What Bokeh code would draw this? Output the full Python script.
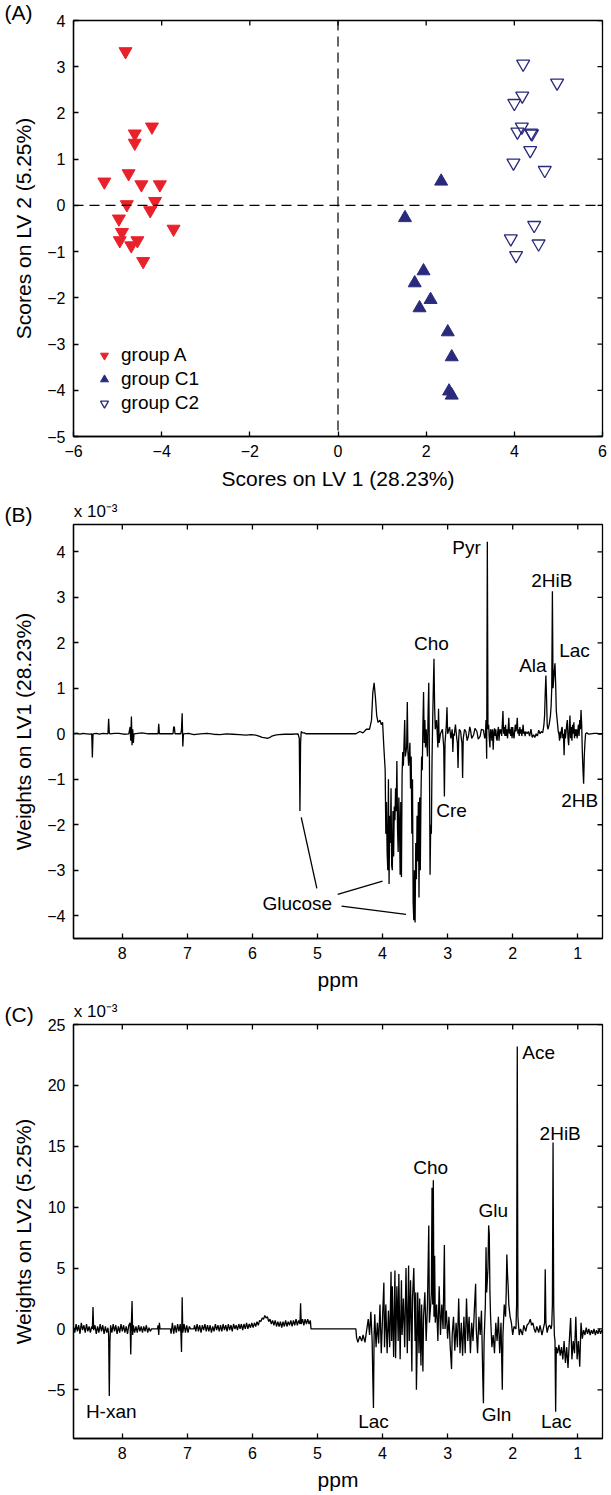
import math
from bokeh.plotting import figure
from bokeh.layouts import column
from bokeh.models import (Range1d, FixedTicker, LinearAxis, Span, LabelSet, Title,
                          CustomJSTickFormatter, ColumnDataSource)
from bokeh.core.properties import value
from bokeh.embed import file_html
from bokeh.resources import INLINE

FONT = "Liberation Sans"

# ---------------- Panel A data (scores) ----------------
groupA_x = [-4.82, -4.22, -4.61, -4.61, -5.30, -4.75, -4.46, -4.04, -4.79, -4.15,
            -4.26, -4.97, -3.73, -4.90, -4.95, -4.69, -4.55, -4.42]
groupA_y = [3.33, 1.70, 1.55, 1.35, 0.51, 0.69, 0.45, 0.45, 0.02, 0.09,
            -0.11, -0.29, -0.51, -0.58, -0.76, -0.87, -0.76, -1.21]
groupC1_x = [2.34, 1.52, 1.94, 1.74, 2.10, 1.85, 2.49, 2.58, 2.52, 2.58]
groupC1_y = [0.52, -0.27, -1.42, -1.68, -2.04, -2.22, -2.74, -3.28, -4.02, -4.11]
groupC2_x = [4.20, 4.97, 4.18, 4.00, 4.17, 4.07, 4.38, 4.40, 4.36, 3.98,
             4.69, 4.45, 3.92, 4.55, 4.04]
groupC2_y = [3.06, 2.65, 2.37, 2.21, 1.70, 1.59, 1.57, 1.55, 1.19, 0.92,
             0.76, -0.43, -0.72, -0.83, -1.08]
legend_labels = ["group A", "group C1", "group C2"]
A_xlim = (-6, 6)
A_ylim = (-5, 4)
A_xticks = [-6, -4, -2, 0, 2, 4, 6]
A_yticks = [-5, -4, -3, -2, -1, 0, 1, 2, 3, 4]

# ---------------- Panel B data: (ppm, LV1 weight x 1e-3) ----------------
B_points = [
    (8.75, 0.0), (8.70, 0.01), (8.65, -0.01), (8.60, 0.01), (8.55, 0.0), (8.50, -0.01),
    (8.47, 0.0), (8.46, -0.52), (8.45, 0.0), (8.40, 0.01), (8.35, -0.01), (8.30, 0.01),
    (8.22, 0.0), (8.21, 0.33), (8.20, 0.02), (8.19, 0.0), (8.12, 0.01), (8.05, 0.01),
    (7.98, -0.01), (7.90, 0.0), (7.88, 0.15), (7.87, -0.15), (7.86, 0.38), (7.85, -0.25),
    (7.84, 0.1), (7.83, -0.2), (7.82, 0.0), (7.76, 0.01), (7.70, 0.02), (7.60, 0.0),
    (7.50, 0.0), (7.45, 0.0), (7.44, 0.22), (7.43, 0.0), (7.30, 0.0), (7.22, 0.0),
    (7.21, 0.15), (7.20, 0.15), (7.19, 0.0), (7.10, 0.0), (7.09, 0.1), (7.08, 0.45),
    (7.07, -0.28), (7.06, 0.0), (6.98, 0.01), (6.90, -0.02), (6.80, 0.0), (6.70, 0.01),
    (6.60, -0.01), (6.50, -0.02), (6.40, 0.0), (6.30, -0.01), (6.20, -0.02), (6.10, -0.03),
    (6.02, -0.02), (5.95, -0.03), (5.90, -0.05), (5.85, -0.08), (5.80, -0.09), (5.77, -0.1),
    (5.73, -0.08), (5.70, -0.05), (5.65, -0.03), (5.60, -0.02), (5.50, -0.01), (5.40, -0.01),
    (5.30, 0.0), (5.28, -0.1), (5.27, -1.7), (5.26, -0.2), (5.25, 0.05), (5.23, 0.02),
    (5.20, 0.02), (5.18, 0.0), (5.10, 0.0), (4.41, 0.0), (4.35, 0.05), (4.30, 0.02),
    (4.25, 0.1), (4.20, 0.1), (4.17, 0.3), (4.15, 0.9), (4.13, 1.12), (4.11, 0.8),
    (4.09, 0.4), (4.07, 0.25), (4.04, 0.3), (4.02, 0.2), (4.00, 0.25), (3.98, -0.3),
    (3.96, -0.8), (3.95, -2.2), (3.94, -1.5), (3.93, -2.6), (3.92, -3.0), (3.91, -1.0),
    (3.90, -3.3), (3.89, -1.8), (3.88, -2.4), (3.87, -1.2), (3.86, -2.9), (3.85, -3.0),
    (3.84, -1.7), (3.83, -2.7), (3.82, -1.6), (3.81, -1.9), (3.80, -1.2), (3.79, -1.7),
    (3.78, -0.6), (3.77, -2.1), (3.76, -2.6), (3.75, -1.4), (3.74, -2.0), (3.73, -3.1),
    (3.72, -1.5), (3.71, -3.15), (3.70, -0.9), (3.69, -0.4), (3.68, -0.7), (3.66, 0.3),
    (3.65, -0.5), (3.63, -0.3), (3.62, 0.7), (3.61, -0.4), (3.60, -0.7), (3.58, -0.2),
    (3.57, -1.2), (3.56, -0.5), (3.55, -2.2), (3.54, -1.0), (3.53, -3.7), (3.52, -4.1),
    (3.51, -3.0), (3.50, -4.15), (3.49, -2.4), (3.48, -3.2), (3.47, -1.8), (3.46, -2.8),
    (3.45, -1.5), (3.44, -3.6), (3.43, -1.4), (3.42, -3.0), (3.41, -1.4), (3.40, -0.5),
    (3.39, -0.8), (3.38, 0.2), (3.37, 0.92), (3.36, -0.2), (3.35, 0.3), (3.34, -0.3),
    (3.33, 0.1), (3.31, -0.5), (3.30, 0.5), (3.29, 1.12), (3.28, -0.5), (3.27, -3.1),
    (3.26, -2.0), (3.25, -2.2), (3.24, -0.6), (3.23, 0.3), (3.22, 1.0), (3.21, 1.65),
    (3.20, 0.6), (3.19, 0.1), (3.17, 0.3), (3.15, -0.3), (3.14, 0.55), (3.13, -0.2),
    (3.11, 0.0), (3.08, 0.1), (3.06, -0.3), (3.05, -1.38), (3.04, -0.2), (3.02, 0.2),
    (3.01, 0.58), (3.00, 0.0), (2.97, 0.15), (2.95, -0.1), (2.93, 0.1), (2.92, -0.4),
    (2.91, 0.0), (2.90, -0.05), (2.88, 0.2), (2.87, 0.05), (2.86, -0.1), (2.85, -0.2),
    (2.84, -0.75), (2.83, -0.1), (2.82, 0.1), (2.80, 0.05), (2.79, -0.1), (2.78, -0.2),
    (2.77, -0.97), (2.76, -0.1), (2.74, 0.1), (2.72, 0.05), (2.70, -0.15), (2.68, -0.05),
    (2.66, 0.15), (2.65, 0.1), (2.63, -0.1), (2.60, -0.02), (2.58, 0.12), (2.55, 0.05),
    (2.53, -0.12), (2.50, -0.05), (2.48, 0.1), (2.45, 0.08), (2.43, -0.1), (2.42, -0.05),
    (2.41, 0.3), (2.40, -0.55), (2.39, 4.22), (2.38, 0.1), (2.37, 0.2), (2.36, -0.1),
    (2.35, -0.3), (2.34, 0.1), (2.33, 0.05), (2.32, -0.15), (2.31, 0.1), (2.30, -0.35),
    (2.29, 0.0), (2.28, 0.12), (2.27, -0.05), (2.26, 0.1), (2.25, -0.1), (2.24, -0.15),
    (2.23, 0.05), (2.22, 0.15), (2.21, -0.15), (2.20, 0.1), (2.19, 0.0), (2.18, 0.1),
    (2.17, -0.05), (2.16, 0.2), (2.15, 0.5), (2.14, 0.0), (2.13, 0.15), (2.12, -0.05),
    (2.11, 0.2), (2.10, -0.05), (2.09, 0.1), (2.08, -0.1), (2.07, 0.08), (2.06, 0.35),
    (2.05, 0.0), (2.04, 0.1), (2.03, -0.05), (2.02, 0.15), (2.01, -0.1), (2.00, 0.15),
    (1.99, 0.0), (1.98, -0.1), (1.97, 0.05), (1.96, 0.2), (1.95, 0.05), (1.94, 0.15),
    (1.93, 0.35), (1.92, 0.0), (1.91, 0.1), (1.90, -0.05), (1.89, 0.15), (1.88, 0.0),
    (1.87, 0.1), (1.86, -0.05), (1.85, 0.05), (1.84, 0.2), (1.83, 0.0), (1.82, 0.05),
    (1.81, -0.05), (1.80, 0.05), (1.78, 0.0), (1.76, 0.05), (1.74, -0.05), (1.72, 0.1),
    (1.70, -0.08), (1.68, -0.02), (1.66, -0.08), (1.64, 0.0), (1.62, -0.05), (1.60, 0.08),
    (1.58, 0.0), (1.56, 0.05), (1.54, 0.02), (1.53, 0.1), (1.52, 0.2), (1.51, 0.4),
    (1.50, 0.9), (1.49, 1.28), (1.48, 0.8), (1.47, 0.2), (1.46, 0.1), (1.45, 0.15),
    (1.44, 0.2), (1.43, 0.3), (1.42, 0.4), (1.41, 0.6), (1.40, 1.0), (1.39, 3.13),
    (1.38, 1.0), (1.37, 1.2), (1.36, 1.4), (1.35, 1.55), (1.34, 1.1), (1.33, 0.5),
    (1.32, 0.35), (1.31, 0.2), (1.30, 0.05), (1.29, 0.0), (1.28, -0.15), (1.27, 0.05),
    (1.26, -0.1), (1.25, 0.1), (1.24, 0.15), (1.23, -0.1), (1.22, 0.0), (1.21, -0.47),
    (1.20, 0.1), (1.19, -0.1), (1.18, 0.05), (1.17, 0.2), (1.16, 0.3), (1.15, -0.1),
    (1.14, -0.25), (1.13, 0.1), (1.12, 0.4), (1.11, -0.1), (1.10, 0.15), (1.09, -0.15),
    (1.08, 0.2), (1.07, 0.0), (1.06, 0.25), (1.05, -0.1), (1.04, 0.1), (1.03, -0.05),
    (1.02, 0.1), (1.01, -0.1), (1.00, 0.05), (0.99, 0.2), (0.98, -0.05), (0.97, 0.3),
    (0.96, 0.1), (0.95, 0.52), (0.94, 0.2), (0.93, -0.4), (0.92, -0.8), (0.91, -1.1),
    (0.90, -0.5), (0.89, -0.2), (0.88, 0.0), (0.86, 0.02), (0.83, -0.01), (0.80, 0.0),
    (0.75, 0.01), (0.70, 0.01), (0.66, -0.01), (0.62, 0.0),
]
B_lab_text = ["Pyr", "2HiB", "Cho", "Ala", "Lac", "Cre", "2HB", "Glucose"]
B_lab_x = [2.71, 1.40, 3.25, 1.69, 1.05, 2.94, 0.97, 5.31]
B_lab_y = [4.09, 3.36, 1.99, 1.51, 1.82, -1.69, -1.46, -3.73]
glucose_x0 = [5.01, 4.69, 4.63]
glucose_y0 = [-3.40, -3.53, -3.79]
glucose_x1 = [5.25, 4.00, 3.64]
glucose_y1 = [-1.84, -3.24, -3.97]
ppm_lim = (8.75, 0.62)
B_ylim = (-4.5, 4.6)
B_yticks = [-4, -3, -2, -1, 0, 1, 2, 3, 4]

# ---------------- Panel C data: (ppm, LV2 weight x 1e-3) ----------------
C_points = [
    (8.75, 0.1), (8.73, -0.3), (8.71, 0.4), (8.69, -0.2), (8.67, 0.3), (8.65, -0.4),
    (8.63, 0.5), (8.61, -0.1), (8.59, 0.3), (8.57, -0.3), (8.55, 0.4), (8.53, -0.2),
    (8.51, 0.2), (8.49, -0.3), (8.47, 0.2), (8.46, 0.0), (8.45, 1.8), (8.44, -0.1),
    (8.42, 0.3), (8.40, -0.4), (8.38, 0.2), (8.36, -0.3), (8.34, 0.4), (8.32, -0.2),
    (8.30, 0.3), (8.28, -0.4), (8.26, 0.2), (8.24, -0.3), (8.22, 0.1), (8.21, -0.5),
    (8.20, -5.5), (8.19, -1.0), (8.18, 0.3), (8.16, -0.3), (8.14, 0.4), (8.12, -0.2),
    (8.10, 0.3), (8.08, -0.4), (8.06, 0.2), (8.04, -0.3), (8.02, 0.4), (8.00, -0.2),
    (7.98, 0.3), (7.96, -0.3), (7.94, 0.2), (7.92, -0.4), (7.90, 0.3), (7.88, 0.5),
    (7.87, -2.1), (7.86, 0.5), (7.85, 2.3), (7.84, -0.5), (7.83, 0.3), (7.81, -0.3),
    (7.79, 0.2), (7.77, -0.3), (7.75, 0.3), (7.73, -0.2), (7.71, 0.2), (7.69, -0.3),
    (7.67, 0.2), (7.65, -0.2), (7.63, 0.3), (7.61, -0.3), (7.59, 0.1), (7.57, -0.2),
    (7.55, 0.0), (7.46, 0.0), (7.45, 0.3), (7.44, -0.5), (7.43, 0.5), (7.42, 0.0),
    (7.26, 0.0), (7.25, -0.4), (7.23, 0.5), (7.21, -0.4), (7.19, 0.3), (7.17, -0.3),
    (7.15, 0.4), (7.13, -0.2), (7.11, 0.4), (7.10, -0.3), (7.09, -1.9), (7.08, 2.6),
    (7.07, -0.3), (7.05, 0.4), (7.03, -0.3), (7.01, 0.3), (6.99, -0.3), (6.97, 0.2),
    (6.95, 0.0), (6.90, 0.0), (6.89, 0.3), (6.87, -0.2), (6.85, 0.4), (6.83, -0.2),
    (6.81, 0.3), (6.79, -0.3), (6.77, 0.3), (6.75, -0.1), (6.73, 0.4), (6.71, -0.2),
    (6.69, 0.3), (6.67, -0.2), (6.65, 0.3), (6.63, -0.3), (6.61, 0.2), (6.59, -0.2),
    (6.57, 0.4), (6.55, -0.1), (6.53, 0.3), (6.51, -0.2), (6.49, 0.3), (6.47, -0.2),
    (6.45, 0.4), (6.43, -0.1), (6.41, 0.3), (6.39, -0.2), (6.37, 0.4), (6.35, -0.1),
    (6.33, 0.3), (6.31, -0.2), (6.29, 0.4), (6.27, 0.0), (6.25, 0.3), (6.23, -0.1),
    (6.21, 0.4), (6.19, 0.0), (6.17, 0.4), (6.15, -0.1), (6.13, 0.4), (6.11, 0.0),
    (6.09, 0.5), (6.07, 0.0), (6.05, 0.4), (6.03, 0.1), (6.01, 0.5), (5.99, 0.1),
    (5.97, 0.5), (5.95, 0.2), (5.93, 0.6), (5.91, 0.3), (5.89, 0.7), (5.87, 0.6),
    (5.85, 0.9), (5.83, 0.8), (5.81, 1.1), (5.79, 0.9), (5.77, 1.0), (5.75, 0.6),
    (5.73, 0.8), (5.71, 0.4), (5.69, 0.7), (5.67, 0.3), (5.65, 0.7), (5.63, 0.2),
    (5.61, 0.6), (5.59, 0.2), (5.57, 0.6), (5.55, 0.1), (5.53, 0.6), (5.51, 0.2),
    (5.49, 0.7), (5.47, 0.2), (5.45, 0.6), (5.43, 0.3), (5.41, 0.7), (5.39, 0.2),
    (5.37, 0.7), (5.35, 0.3), (5.33, 0.8), (5.31, 0.3), (5.29, 0.7), (5.27, 0.4),
    (5.26, 2.1), (5.25, 0.4), (5.23, 0.8), (5.21, 0.3), (5.19, 0.8), (5.17, 0.4),
    (5.15, 0.8), (5.13, 0.4), (5.11, 0.7), (5.10, 0.0), (4.41, 0.0), (4.40, -0.7),
    (4.38, -1.1), (4.35, -0.6), (4.32, -1.0), (4.30, -0.5), (4.27, -1.1), (4.25, -0.3),
    (4.22, 0.8), (4.20, -0.5), (4.18, 1.4), (4.16, -1.0), (4.15, -4.0), (4.14, -6.5),
    (4.13, -0.5), (4.12, 1.2), (4.10, -1.5), (4.08, 0.5), (4.06, -1.2), (4.04, 2.0),
    (4.02, -2.0), (4.00, 1.0), (3.98, 3.8), (3.97, -1.5), (3.95, 2.0), (3.93, -2.0),
    (3.91, 1.5), (3.89, -1.5), (3.87, 4.7), (3.86, -1.0), (3.85, 3.5), (3.83, -2.3),
    (3.81, 4.8), (3.80, -2.4), (3.78, 3.5), (3.76, -1.0), (3.75, 4.5), (3.73, -2.5),
    (3.71, 4.0), (3.70, -0.5), (3.68, 2.5), (3.66, -1.5), (3.64, 5.0), (3.62, -2.0),
    (3.60, 5.2), (3.59, -1.0), (3.57, 4.0), (3.55, -3.5), (3.54, 2.5), (3.52, 5.0),
    (3.50, -1.0), (3.49, 3.0), (3.48, -5.0), (3.47, -2.0), (3.46, 3.0), (3.44, -2.0),
    (3.43, 2.5), (3.41, -3.0), (3.40, 2.0), (3.38, -3.5), (3.37, 1.0), (3.35, 3.0),
    (3.33, -1.0), (3.31, 2.0), (3.29, 8.5), (3.28, 0.5), (3.26, 2.0), (3.25, 3.0),
    (3.24, 11.6), (3.23, 2.0), (3.22, 12.2), (3.21, 1.0), (3.20, 6.0), (3.19, 0.5),
    (3.17, 2.0), (3.15, -1.0), (3.13, 3.5), (3.11, -0.5), (3.09, 2.0), (3.07, 0.0),
    (3.05, 6.9), (3.04, 0.0), (3.02, 1.5), (3.00, -0.8), (2.98, 1.0), (2.96, -1.5),
    (2.94, -3.3), (2.93, -0.5), (2.91, 1.0), (2.89, -1.8), (2.87, 0.5), (2.85, -1.5),
    (2.83, 2.5), (2.81, -2.0), (2.79, 0.5), (2.77, -2.2), (2.75, 1.0), (2.73, -2.0),
    (2.71, 2.5), (2.69, -1.0), (2.67, 1.0), (2.65, -2.0), (2.63, 0.5), (2.61, -1.0),
    (2.59, 1.5), (2.57, 3.7), (2.56, 0.0), (2.54, -2.0), (2.52, 1.0), (2.50, -0.5),
    (2.48, 1.5), (2.46, -4.0), (2.45, -6.1), (2.44, -1.0), (2.42, 2.0), (2.41, 6.7),
    (2.40, 3.0), (2.38, 5.0), (2.37, 8.5), (2.36, 7.8), (2.35, 3.0), (2.34, 1.0),
    (2.32, -1.5), (2.30, -0.5), (2.28, -2.0), (2.26, 0.5), (2.24, -1.0), (2.22, 1.0),
    (2.20, -2.0), (2.18, 0.5), (2.16, -5.0), (2.15, -0.5), (2.13, 2.0), (2.11, 1.0),
    (2.10, 3.0), (2.09, 6.1), (2.08, 4.5), (2.07, 3.5), (2.06, 2.0), (2.04, 1.0),
    (2.02, 0.5), (2.00, -0.5), (1.98, 0.2), (1.95, 0.0), (1.94, 2.0), (1.93, 23.2),
    (1.92, 1.0), (1.90, -0.5), (1.88, 0.0), (1.85, -0.5), (1.83, 0.3), (1.80, -0.2),
    (1.78, 0.3), (1.75, 0.5), (1.73, 0.8), (1.71, 0.3), (1.69, 0.5), (1.67, 0.0),
    (1.65, -0.3), (1.63, 0.2), (1.60, -0.3), (1.58, 0.3), (1.55, -0.5), (1.53, 0.0),
    (1.51, 0.5), (1.50, 4.9), (1.49, 0.5), (1.47, -0.3), (1.45, 0.2), (1.43, 0.3),
    (1.41, 0.0), (1.40, 0.3), (1.39, 2.0), (1.38, 15.3), (1.37, 2.0), (1.36, -0.5),
    (1.35, -1.0), (1.34, -6.8), (1.33, -1.5), (1.31, -2.0), (1.29, -1.3), (1.27, -2.2),
    (1.25, -1.5), (1.23, -2.5), (1.21, -1.0), (1.19, -2.8), (1.17, -1.5), (1.15, -3.2),
    (1.13, -1.0), (1.11, 0.9), (1.09, -2.5), (1.07, -1.0), (1.05, -2.0), (1.03, 1.0),
    (1.01, -2.5), (0.99, -1.0), (0.97, -3.1), (0.95, 0.5), (0.93, -0.8), (0.91, -0.1),
    (0.89, -0.5), (0.87, 0.1), (0.85, -0.4), (0.83, 0.0), (0.81, -0.5), (0.79, -0.1),
    (0.77, -0.4), (0.75, 0.0), (0.73, -0.5), (0.71, -0.1), (0.69, -0.4), (0.67, 0.0),
    (0.65, -0.4), (0.63, -0.1), (0.62, -0.2),
]
C_lab_text = ["Ace", "2HiB", "Cho", "Glu", "H-xan", "Lac", "Gln", "Lac"]
C_lab_x = [1.60, 1.27, 3.26, 2.30, 8.17, 4.14, 2.25, 1.33]
C_lab_y = [22.66, 16.08, 13.29, 9.70, -6.79, -7.61, -7.07, -7.61]
C_ylim = (-9, 25)
C_yticks = [-5, 0, 5, 10, 15, 20, 25]
ppm_ticks = [1, 2, 3, 4, 5, 6, 7, 8]
scale_note = "x 10\u207b\u00b3"
scale_note_at = [8.41]

RED = "#e8212b"
NAVY = "#2a2a7c"

fmt_code = "return (tick < 0 ? '\u2212' : '') + Math.abs(tick).toString();"

B_ppm = [p for p, w in B_points]
B_weight = [w for p, w in B_points]
C_ppm = [p for p, w in C_points]
C_weight = [w for p, w in C_points]


def style(p, xt, yt, xlim, ylim, xlabel, ylabel, xstand):
    p.xgrid.visible = False
    p.ygrid.visible = False
    p.outline_line_color = "black"
    p.outline_line_width = 1.3
    p.title.visible = False
    p.xaxis.ticker = FixedTicker(ticks=xt)
    p.yaxis.ticker = FixedTicker(ticks=yt)
    p.xaxis.axis_label = xlabel
    p.yaxis.axis_label = ylabel
    for ax in list(p.xaxis) + list(p.yaxis):
        ax.formatter = CustomJSTickFormatter(code=fmt_code)
        ax.major_tick_in = 5
        ax.major_tick_out = 0
        ax.minor_tick_in = 0
        ax.minor_tick_out = 0
        ax.axis_line_color = "black"
        ax.axis_line_width = 1.3
        ax.major_tick_line_color = "black"
        ax.major_tick_line_width = 1.3
        ax.major_label_text_font = FONT
        ax.major_label_text_font_size = "16px"
        ax.major_label_text_color = "black"
        ax.major_label_standoff = 8
        ax.axis_label_text_font = FONT
        ax.axis_label_text_font_size = "21px"
        ax.axis_label_text_font_style = "normal"
        ax.axis_label_text_color = "black"
    p.xaxis.axis_label_standoff = xstand
    p.yaxis.axis_label_standoff = 9
    # mirrored inward ticks on the top and right frame edges
    p.scatter(xt, [ylim[1]] * len(xt), marker="dash", size=10, angle=math.pi / 2,
              line_color="black", line_width=1.3)
    p.scatter([xlim[1]] * len(yt), yt, marker="dash", size=10,
              line_color="black", line_width=1.3)


def panel_title(p, text, standoff, valign="middle"):
    p.add_layout(Title(text=text, align="left", vertical_align=valign, offset=-69,
                       standoff=standoff, text_font=FONT, text_font_size="21px",
                       text_font_style="normal", text_color="black"), "above")


def scale_axis(p):
    ax = LinearAxis(ticker=FixedTicker(ticks=scale_note_at),
                    formatter=CustomJSTickFormatter(code="return '%s';" % scale_note),
                    major_tick_in=0, major_tick_out=0, minor_tick_in=0, minor_tick_out=0,
                    axis_line_alpha=0, major_label_standoff=-17,
                    major_label_text_font=FONT, major_label_text_font_size="17px",
                    major_label_text_color="black")
    p.add_layout(ax, "above")


# ---------------- Panel A ----------------
pA = figure(width=611, height=498, output_backend="svg", toolbar_location=None,
            x_range=Range1d(*A_xlim), y_range=Range1d(*A_ylim),
            min_border_left=73, min_border_right=9, min_border_top=20, min_border_bottom=62)
style(pA, A_xticks, A_yticks, A_xlim, A_ylim, "Scores on LV 1 (28.23%)",
      "Scores on LV 2 (5.25%)", 7)
pA.add_layout(Span(location=0, dimension="height", line_color="black", line_dash="10 6", line_width=1.2))
pA.add_layout(Span(location=0, dimension="width", line_color="black", line_dash="10 6", line_width=1.2))
pA.scatter(groupA_x, groupA_y, marker="inverted_triangle", size=13, fill_color=RED,
           line_color=RED, legend_label=legend_labels[0])
pA.scatter(groupC1_x, groupC1_y, marker="triangle", size=13, fill_color=NAVY,
           line_color=NAVY, legend_label=legend_labels[1])
pA.scatter(groupC2_x, groupC2_y, marker="inverted_triangle", size=13, fill_color=None,
           line_color=NAVY, line_width=1.3, legend_label=legend_labels[2])
lg = pA.legend[0]
lg.location = (21, 22)
lg.border_line_alpha = 0
lg.background_fill_alpha = 0
lg.padding = 0
lg.margin = 0
lg.spacing = 2
lg.glyph_width = 20
lg.glyph_height = 20
lg.label_height = 20
lg.label_standoff = 7
lg.label_text_font = FONT
lg.label_text_font_size = "19px"
lg.label_text_color = "black"
panel_title(pA, "(A)", -6, "bottom")

# ---------------- Panel B ----------------
pB = figure(width=611, height=500, output_backend="svg", toolbar_location=None,
            x_range=Range1d(*ppm_lim), y_range=Range1d(*B_ylim),
            min_border_left=73, min_border_right=9, min_border_top=24, min_border_bottom=60)
style(pB, ppm_ticks, B_yticks, ppm_lim, B_ylim, "ppm", "Weights on LV1 (28.23%)", 6)
pB.line(B_ppm, B_weight, line_color="black", line_width=1.3)
pB.segment(glucose_x0, glucose_y0, glucose_x1, glucose_y1, line_color="black", line_width=1.3)
srcB = ColumnDataSource(dict(x=B_lab_x, y=B_lab_y, t=B_lab_text))
pB.add_layout(LabelSet(x="x", y="y", text="t", source=srcB, text_font=value(FONT),
                       text_font_size="19px", text_align="center", text_baseline="middle",
                       text_color="black"))
panel_title(pB, "(B)", -4)
scale_axis(pB)

# ---------------- Panel C ----------------
pC = figure(width=611, height=497, output_backend="svg", toolbar_location=None,
            x_range=Range1d(*ppm_lim), y_range=Range1d(*C_ylim),
            min_border_left=73, min_border_right=9, min_border_top=24, min_border_bottom=57)
style(pC, ppm_ticks, C_yticks, ppm_lim, C_ylim, "ppm", "Weights on LV2 (5.25%)", 6)
pC.line(C_ppm, C_weight, line_color="black", line_width=1.3)
srcC = ColumnDataSource(dict(x=C_lab_x, y=C_lab_y, t=C_lab_text))
pC.add_layout(LabelSet(x="x", y="y", text="t", source=srcC, text_font=value(FONT),
                       text_font_size="19px", text_align="center", text_baseline="middle",
                       text_color="black"))
panel_title(pC, "(C)", -4)
scale_axis(pC)

layout = column(pA, pB, pC, spacing=0)
open("out.html", "w").write(file_html(layout, INLINE))
